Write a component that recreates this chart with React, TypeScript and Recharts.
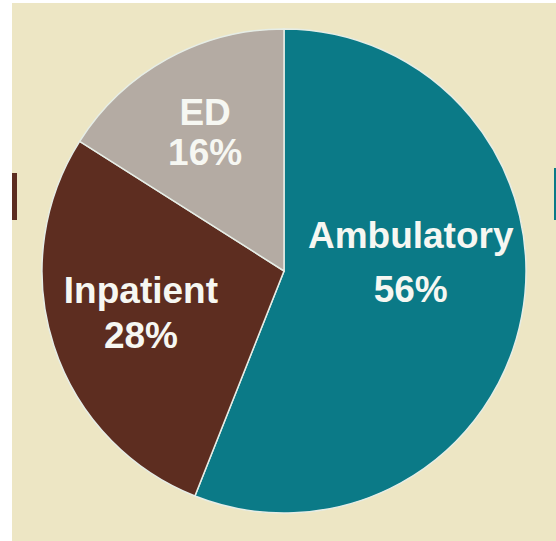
import React from "react";
import { PieChart, Pie, Cell } from "recharts";

const categories = ["Ambulatory", "Inpatient", "ED"];
const shares = [56, 28, 16];
const percentLabels = ["56%", "28%", "16%"];

const colors = ["#0b7a87", "#5d2d20", "#b4aba3"];

const data = categories.map((name, i) => ({ name, value: shares[i], pct: percentLabels[i] }));

// label placement per slice: polar angle (deg, from centre), radius fraction, line gap
const labelAngle = [4, -164, 119.6];
const labelRadius = [0.525, 0.615, 0.66];
const labelGap = [54, 45, 40];

const RADIAN = Math.PI / 180;

const renderLabel = (props: any) => {
  const { cx, cy, outerRadius, index } = props;
  const a = labelAngle[index] * RADIAN;
  const r = outerRadius * labelRadius[index];
  const x = cx + r * Math.cos(a);
  const y = cy - r * Math.sin(a);
  const gap = labelGap[index];
  const b1 = y - gap / 2 + 13;
  const b2 = b1 + gap;
  const d = data[index];
  return (
    <g>
      <text x={x} y={b1} textAnchor="middle" fill="#f6f7f2" fontSize={37} fontWeight="bold" fontFamily="'Liberation Sans', Arial, sans-serif">
        {d.name}
      </text>
      <text x={x} y={b2} textAnchor="middle" fill="#f6f7f2" fontSize={37} fontWeight="bold" fontFamily="'Liberation Sans', Arial, sans-serif">
        {d.pct}
      </text>
    </g>
  );
};

export default function App() {
  return (
    <div style={{ position: "absolute", left: 0, top: 0, width: 556, height: 541, background: "#ffffff", overflow: "hidden" }}>
      <div style={{ position: "absolute", left: 12, top: 3, width: 544, height: 538, background: "#ede6c4" }} />
      <div style={{ position: "absolute", left: 12, top: 173, width: 5, height: 47, background: "#5d2d20" }} />
      <div style={{ position: "absolute", left: 554, top: 168, width: 2, height: 52, background: "#0b7a87" }} />
      <div style={{ position: "absolute", left: 0, top: 0 }}>
        <PieChart width={556} height={541} margin={{ top: 0, right: 0, bottom: 0, left: 0 }}>
          <Pie
            data={data}
            dataKey="value"
            nameKey="name"
            cx={284}
            cy={271}
            innerRadius={0}
            outerRadius={242}
            startAngle={90}
            endAngle={-270}
            label={renderLabel}
            labelLine={false}
            isAnimationActive={false}
          >
            {data.map((d, i) => (
              <Cell key={d.name} fill={colors[i]} stroke="#e6ede6" strokeWidth={1.5} />
            ))}
          </Pie>
        </PieChart>
      </div>
    </div>
  );
}
